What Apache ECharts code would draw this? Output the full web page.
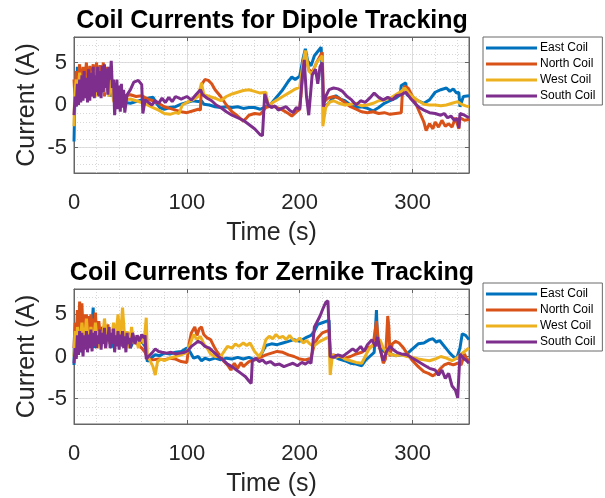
<!DOCTYPE html>
<html>
<head>
<meta charset="utf-8">
<script src="https://cdn.jsdelivr.net/npm/echarts@6/dist/echarts.min.js"></script>
<style>html,body{margin:0;padding:0;background:#fff}#c{width:605px;height:498px}</style>
</head>
<body>
<div id="c"></div>
<script>
const seriesNames = ['East Coil','North Coil','West Coil','South Coil'];
const colors = ['#0072BD','#D95319','#EDB120','#7E2F8E'];
const titles = ['Coil Currents for Dipole Tracking','Coil Currents for Zernike Tracking'];
const xTicks = [0,100,200,300];
const yTicks = [-5,0,5];

// [time (s), current (A)]
const dipoleEast = [[0,-4.3],[0.5,-1],[1,2.5],[2,0.5],[3,4.5],[4,1],[5,4.2],[6,0.5],[7,3.5],[8,1],[10,3.8],[12,0.8],[14,4],[16,1.5],[18,3.6],[20,1.2],[22,4],[24,1.5],[26,3.5],[28,1.8],[30,3.8],[32,1],[34,2.5],[36,0.5],[38,0.2],[40,0.1],[45,0.3],[50,0.2],[55,0.4],[60,0.6],[65,0.8],[70,0.9],[73,0.2],[76,-0.3],[80,-0.5],[85,-0.3],[90,-0.2],[95,0.1],[100,0.3],[105,0.5],[110,0.4],[113,0.5],[115,0.1],[120,0],[125,-0.2],[130,-0.3],[135,-0.2],[140,-0.3],[145,-0.2],[150,-0.4],[155,-0.3],[160,-0.3],[165,-0.5],[170,-0.2],[175,0.2],[180,1],[185,1.8],[190,2.8],[193,3.3],[196,3],[200,3.4],[203,5.5],[205,6.6],[207,5.2],[210,4.6],[213,5.8],[216,6.3],[219,6.8],[220.5,6.9],[221,-0.3],[224,0],[228,0.6],[232,1.1],[236,0.7],[240,0.5],[245,0],[250,-0.3],[255,-0.2],[260,-0.4],[265,-0.7],[270,-0.3],[275,0.2],[280,0.5],[285,0.8],[289,1.2],[290,2.3],[294,2.6],[295,1.2],[300,0.8],[305,0.5],[310,0.2],[315,0.6],[320,1.5],[325,1.8],[330,2],[333,1.6],[336,1.9],[339,1.4],[341,1.5],[342,-0.2],[345,1],[350,1.1]];
const dipoleNorth = [[0,3],[1,0.5],[2,4],[3,1.5],[5,4.8],[6,1],[8,4.5],[9,2],[11,5],[12,1.5],[14,4.6],[15,1],[17,4.8],[18,2],[20,5],[21,1.5],[23,4.7],[24,2],[26,5],[27,1],[29,4.5],[30,2],[32,3.5],[34,1],[36,1.5],[38,0.5],[40,1],[45,1.1],[50,1.2],[55,1],[60,1.1],[65,0.7],[70,0.5],[75,0.2],[80,-0.2],[85,-0.4],[90,-0.6],[95,-0.8],[100,-0.9],[105,-0.7],[110,-0.5],[112,-0.6],[113,2.4],[116,3],[119,2.9],[122,2.5],[125,1.8],[130,1],[135,0],[140,-0.8],[145,-1.3],[150,-1.9],[153,-1.5],[155,-1.2],[160,-1],[165,-1.1],[170,-0.3],[175,-0.1],[180,-0.3],[185,-0.6],[190,-1],[193,-1.3],[197,-0.8],[200,-0.5],[203,4],[205,6],[208,4.2],[211,3.8],[215,5],[220,6.2],[221,0.3],[225,0.8],[230,1],[235,0.8],[240,0.3],[245,-0.2],[250,-0.5],[255,-0.8],[260,-0.9],[265,-0.8],[270,-1],[275,-0.9],[280,-1.1],[285,-1],[290,-0.9],[291,1.5],[293,2.2],[296,2],[300,1],[305,-0.5],[310,-2],[312,-3],[315,-2.2],[318,-2.8],[320,-2],[323,-2.6],[326,-1.8],[329,-2.5],[332,-2.2],[335,-2.6],[338,-1.5],[341,-2.8],[342,-1.5],[346,-1.8],[350,-1.7]];
const dipoleWest = [[0,-2.5],[0.5,1],[2,3],[3,0.5],[5,3.8],[7,1],[9,3.5],[11,0.8],[13,3.8],[15,1.5],[17,4],[19,1],[21,3.8],[23,1.2],[25,4],[27,1.5],[29,3.5],[31,1],[33,3],[35,0.5],[38,-0.2],[40,0.3],[45,0.6],[50,0.7],[55,0.5],[60,0.3],[65,0],[70,-0.3],[75,-0.6],[80,-1],[85,-1.1],[90,-0.9],[93,-1],[96,0],[100,0.3],[105,0.6],[110,1],[113,2.6],[115,1.2],[120,1],[125,0.8],[130,0.5],[135,1],[140,1.3],[145,1.5],[150,1.7],[155,1.8],[160,1.6],[165,1.4],[170,1.5],[172,0],[175,0.2],[180,0.6],[185,1],[190,1.4],[195,1.8],[200,2.1],[203,5],[205,6.4],[208,4],[211,3.6],[215,5],[220,5.8],[220.5,-2.5],[223,-0.3],[226,0.3],[230,0.5],[235,0.2],[240,0],[245,0.1],[250,0.2],[255,-0.1],[260,0],[265,0.2],[270,0.5],[275,0.6],[280,0.8],[285,1.2],[290,1.6],[293,2],[296,1.5],[300,1],[305,0.5],[310,0.1],[315,0],[320,0],[325,-0.1],[330,0],[335,0.2],[340,0.4],[343,0.1],[347,-0.1],[350,-0.2]];
const dipoleSouth = [[0,-1.2],[1,1],[2,-0.2],[3,2.5],[4,0],[5,3],[6,0.3],[7,3.5],[8,0.5],[9,4],[10,0.8],[11,3.2],[12,0.3],[13,4.2],[14,0.5],[15,3.8],[16,1],[17,4.5],[18,0.8],[19,3.5],[20,1.5],[21,4.5],[22,1],[23,4],[24,0.8],[25,4.6],[26,1.5],[27,4.8],[28,2],[29,4.3],[30,1.2],[31,4.5],[32,3],[33,5.2],[34,2],[35,3],[36,-1.2],[38,3],[39,-0.5],[40,2.3],[41,-0.8],[42,2.5],[43,-0.3],[44,1.8],[45,-0.9],[47,1.2],[50,1.8],[53,2.7],[57,2.9],[60,2.4],[61,-1],[63,0.6],[66,0.3],[69,0],[72,0.5],[75,0.2],[78,0.8],[81,0.3],[84,0.9],[87,0.4],[90,1],[95,0.7],[100,1],[104,0.6],[108,1.2],[112,1.8],[114,1.2],[118,0.8],[122,0.5],[126,0],[130,-0.3],[135,-0.8],[140,-1.2],[145,-1.5],[150,-1.8],[155,-2.3],[160,-2.8],[165,-3.5],[167,-3.6],[169,1.3],[172,0],[175,-0.3],[178,-0.1],[181,-0.6],[184,-0.4],[188,-0.2],[191,-0.6],[194,-0.9],[197,-0.3],[200,-0.5],[202,3],[204,5.3],[206,1],[208,-1.2],[211,3.5],[214,4.2],[216,2.5],[218,4.5],[220,5],[221,-0.2],[223,1],[226,1.8],[230,2],[234,1.9],[238,1.6],[242,1],[246,0.6],[250,0],[254,0.5],[258,0.3],[262,0.8],[266,1.4],[270,0.9],[274,0.6],[278,0.9],[282,0.6],[286,1.1],[290,1.2],[294,1.5],[298,0.8],[302,0.2],[306,-0.3],[310,-0.6],[315,-0.9],[320,-1],[325,-1.2],[328,-1],[331,-1.5],[334,-1.3],[337,-1.8],[340,-1.6],[341,-2.7],[342,-1],[346,-1.2],[350,-1.5]];

const zernikeEast = [[0,-1],[0.5,3],[1,1],[2,4],[3,1.5],[5,3.5],[7,0.5],[9,4],[11,1],[13,3],[15,1.5],[17,5.8],[18,1],[20,3.5],[22,1.5],[25,3.5],[28,2],[30,3],[33,1],[35,3],[38,1.5],[40,2.5],[43,1.2],[46,2.5],[50,1],[53,2],[56,1.5],[60,1.8],[63,1.2],[65,-0.6],[68,-0.2],[72,0.2],[76,0.1],[80,0.4],[85,0.3],[90,0.5],[95,0.6],[100,1],[103,0.5],[106,-0.2],[110,0],[113,-0.5],[116,-0.2],[120,-0.4],[125,-0.2],[130,-0.4],[135,-0.2],[140,-0.3],[145,-0.1],[150,-0.3],[155,-0.1],[160,-0.4],[163,-0.2],[166,0.3],[170,1.3],[175,1.5],[180,1.4],[185,1.6],[190,1.8],[195,2],[200,1.8],[205,2.2],[210,2.5],[213,3],[216,3.8],[220,4],[224,4.2],[226,4.3],[227,0.3],[230,0],[235,-0.3],[240,-0.5],[245,-0.8],[250,-0.9],[255,-1.1],[258,-0.5],[262,0],[266,0.5],[268,5.5],[269,1.5],[272,0.8],[276,0.5],[280,0.3],[285,0.1],[290,0.2],[295,0.3],[300,0.9],[305,1.5],[310,1.6],[315,2],[318,2.1],[321,1.7],[324,1.9],[327,1.4],[330,0.9],[333,0.4],[336,0],[339,-0.3],[342,1],[344,2.7],[347,2.5],[350,2]];
const zernikeNorth = [[0,1],[1,4],[2,1.5],[3,5.5],[4,2],[5,6.5],[6,2.5],[7,6.3],[8,3],[9,5],[10,1.5],[11,5],[12,2],[13,4.8],[14,2.5],[15,5],[16,3],[17,4.5],[18,2],[19,5.2],[20,2.5],[22,4.2],[24,1.5],[26,3.5],[28,1],[30,3.8],[32,1.5],[34,3.2],[36,2],[38,3.5],[40,1.5],[42,3],[45,2],[48,2.8],[50,2.2],[53,1.8],[56,1.5],[60,1],[63,0.5],[65,-0.2],[70,-0.4],[75,-0.3],[80,-0.4],[85,-0.2],[90,-0.3],[95,-0.6],[100,-0.7],[102,1.5],[104,2.8],[107,3.5],[109,2.5],[111,3.3],[113,3.5],[115,2.6],[118,2.2],[121,2],[124,1.2],[127,0.5],[130,0],[133,-0.6],[136,-1],[139,-1.6],[142,-0.8],[145,-1.4],[148,-0.7],[150,-1.2],[155,-0.6],[160,-0.4],[165,-0.1],[170,0.2],[175,0.4],[180,0.6],[185,0.5],[190,0.2],[195,0],[200,-0.3],[205,-0.4],[210,-0.2],[213,1.5],[216,2.2],[220,2.8],[224,3],[226,3.1],[227,0],[230,0.2],[235,0],[240,-0.2],[245,0],[250,0.3],[255,0.5],[260,1],[265,1.3],[268,4.2],[270,1.5],[272,0.5],[274,-0.8],[276,-0.3],[278,4.8],[279,3.5],[280,0],[282,1.5],[285,1.8],[288,1.6],[292,1],[296,0.2],[300,-0.5],[305,-1.2],[310,-1.8],[314,-2],[318,-2.3],[322,-1.9],[325,-1.4],[328,-1],[332,-0.8],[336,-1],[340,-0.8],[343,-1],[346,0.3],[348,-0.3],[350,-0.5]];
const zernikeWest = [[0,0],[1,3],[2,0.5],[3,3.5],[5,1],[7,4],[9,1.5],[11,4.5],[13,1],[15,3.5],[17,1.5],[19,4],[21,1],[23,3],[25,1.8],[27,4.5],[29,2],[31,3.5],[33,1.5],[35,4],[37,2.5],[39,5],[41,2],[43,5.8],[45,2],[47,3],[49,1],[51,3.5],[53,1.5],[55,2.5],[57,1],[60,2.5],[62,1.5],[64,4.6],[65,0],[67,-0.4],[70,-1.2],[72,-2.2],[74,-0.6],[77,-0.3],[80,-0.5],[85,-0.2],[90,0],[95,0.2],[100,0.5],[103,1.5],[106,2.6],[109,2],[112,2.4],[115,1.5],[118,1],[121,0.3],[125,0],[130,0],[133,0.6],[136,1.2],[140,1],[143,1.5],[146,1.2],[150,1.6],[153,1.3],[156,1.6],[160,0.6],[164,0],[167,0.6],[170,2],[173,2.4],[176,2.1],[179,2.6],[182,2.2],[185,2.4],[188,2],[191,2.5],[194,2],[197,1.8],[200,2.2],[203,1.6],[206,1.9],[209,1.5],[212,1.2],[215,1.5],[218,1.8],[221,2],[224,2.2],[226,2.3],[227,-2.2],[229,0.2],[232,-0.1],[236,0.1],[240,-0.3],[245,-0.5],[250,-0.7],[255,-0.8],[258,0],[261,0.8],[264,1.3],[268,1.8],[271,2],[274,1],[277,0.5],[280,0.3],[285,0.1],[290,0.2],[295,0],[300,-0.1],[305,-0.3],[310,-0.4],[315,-0.5],[320,-0.3],[325,0],[330,-0.2],[335,-0.5],[340,-0.1],[343,0.3],[346,0.6],[350,1]];
const zernikeSouth = [[0,-0.8],[1,1],[2,-0.3],[3,2.5],[4,0.2],[5,3],[6,0.5],[7,2.8],[8,0],[9,2.5],[10,0.8],[11,3],[12,0.5],[13,2.6],[14,1],[15,3.2],[16,0.6],[17,2.8],[18,1.2],[19,3],[20,1],[21,2.5],[22,1.5],[23,3.2],[24,0.8],[25,2.8],[26,1.5],[27,3.4],[28,1],[29,2.6],[30,1.8],[31,3.5],[32,1],[33,2.8],[34,1.5],[35,3.3],[36,0.5],[37,2.5],[38,1.2],[39,3],[40,0.8],[41,2.6],[42,1.5],[43,3],[44,1],[45,2.4],[46,0.5],[47,2.8],[48,1.5],[49,2.2],[50,1],[52,2.8],[54,1.5],[56,2.5],[58,1.8],[60,2.6],[62,2.2],[63,2.5],[64,-0.3],[66,0],[69,0.4],[72,0.9],[75,0.6],[78,0.5],[82,0.4],[86,0.5],[90,0.3],[94,0.4],[98,0.5],[101,0.7],[104,1.2],[107,1.5],[110,1.8],[113,1.6],[116,1.2],[120,1],[124,0.5],[128,0],[132,-0.4],[136,-0.9],[140,-1.2],[144,-1.6],[148,-2],[152,-2.4],[155,-2.9],[157,-3.2],[158,-0.5],[161,-0.2],[164,-0.6],[167,-0.4],[170,-0.8],[174,-0.6],[178,-1],[182,-0.9],[186,-1.2],[190,-1],[194,-0.8],[198,-1.1],[202,-0.7],[205,-0.9],[208,-0.6],[210,-0.8],[211,0.5],[213,3.5],[215,4],[218,4.8],[221,5.8],[223,6.4],[225,6.6],[226,6.6],[227,0],[230,-0.1],[234,0.2],[238,0],[242,0.4],[247,0.9],[250,0.6],[254,1.2],[257,0.6],[260,1.4],[264,2],[267,1.2],[269,2.3],[271,1],[274,-0.5],[277,0.6],[280,1.2],[283,0.8],[286,0.5],[290,0.3],[295,0.2],[300,-0.2],[305,-0.6],[310,-1],[315,-1.4],[320,-1.6],[323,-2.2],[326,-1.6],[329,-2.6],[332,-2],[335,-3.5],[338,-4],[340,-4.9],[341,-4.8],[342,0.3],[345,-0.2],[348,-0.5],[350,-0.8]];

const plots = [
  [dipoleEast, dipoleNorth, dipoleWest, dipoleSouth],
  [zernikeEast, zernikeNorth, zernikeWest, zernikeSouth]
];

const FONT = 'Liberation Sans';
const AX = '#262626';
const gridTops = [37, 289];
const gridH = [136, 135];
const X_MIN = 0, X_MAX = 350, Y_MIN = -8, Y_MAX = 8;

const grids = [], xAxes = [], yAxes = [], series = [], titleArr = [], legends = [];
gridTops.forEach((top, g) => {
  grids.push({left: 74, top: top, width: 395, height: gridH[g], containLabel: false, show: true, backgroundColor: '#fff', borderColor: '#666', borderWidth: 1});
  xAxes.push({gridIndex: g, type: 'value', min: X_MIN, max: X_MAX, interval: 100, position: 'bottom',
    name: 'Time (s)', nameLocation: 'middle', nameGap: 48, nameMoveOverlap: false, nameTextStyle: {fontFamily: FONT, fontSize: 25, color: AX},
    axisLine: {show: true, onZero: false, lineStyle: {color: '#666'}},
    axisTick: {show: true, inside: true, length: 4, lineStyle: {color: '#666'}},
    axisLabel: {show: true, showMaxLabel: false, fontFamily: FONT, fontSize: 22, color: AX, margin: 19,
      formatter: v => xTicks.indexOf(v) >= 0 ? String(v) : ''},
    splitLine: {show: true, lineStyle: {color: '#dedede', width: 1}}});
  xAxes.push({gridIndex: g, type: 'value', min: X_MIN, max: X_MAX, interval: 100, position: 'top',
    axisLine: {show: true, onZero: false, lineStyle: {color: '#666'}},
    axisTick: {show: true, inside: true, length: 4, lineStyle: {color: '#666'}},
    axisLabel: {show: false}, splitLine: {show: false}});
  xAxes.push({gridIndex: g, type: 'value', min: X_MIN, max: X_MAX, interval: 20, position: 'bottom', show: true,
    axisLine: {show: false}, axisTick: {show: false}, axisLabel: {show: false},
    splitLine: {show: true, lineStyle: {color: '#d8d8d8', width: 1, type: [1, 2]}}});

  yAxes.push({gridIndex: g, type: 'value', min: Y_MIN, max: Y_MAX, splitNumber: 3, position: 'left',
    name: 'Current (A)', nameLocation: 'middle', nameGap: 34, nameMoveOverlap: false, nameRotate: 90, nameTextStyle: {fontFamily: FONT, fontSize: 25, color: AX},
    axisLine: {show: true, onZero: false, lineStyle: {color: '#666'}},
    axisTick: {show: true, inside: true, length: 4, lineStyle: {color: '#666'}},
    axisLabel: {show: true, showMinLabel: false, showMaxLabel: false, fontFamily: FONT, fontSize: 22, color: AX, margin: 7,
      formatter: v => yTicks.indexOf(v) >= 0 ? String(v) : ''},
    splitLine: {show: true, lineStyle: {color: '#dedede', width: 1}}});
  yAxes.push({gridIndex: g, type: 'value', min: Y_MIN, max: Y_MAX, splitNumber: 3, position: 'right',
    axisLine: {show: true, onZero: false, lineStyle: {color: '#666'}},
    axisTick: {show: true, inside: true, length: 4, lineStyle: {color: '#666'}},
    axisLabel: {show: false}, splitLine: {show: false}});
  yAxes.push({gridIndex: g, type: 'value', min: Y_MIN, max: Y_MAX, interval: 1, position: 'left',
    axisLine: {show: false}, axisTick: {show: false}, axisLabel: {show: false},
    splitLine: {show: true, lineStyle: {color: '#d8d8d8', width: 1, type: [1, 2]}}});

  titleArr.push({text: titles[g], left: 267, top: gridTops[g] - 33, textAlign: 'center',
    textStyle: {fontFamily: FONT, fontSize: 25, fontWeight: 'bold', color: '#000'}});

  legends.push({data: seriesNames, orient: 'vertical', left: 483, top: g === 0 ? 37 : 283,
    icon: 'rect', itemWidth: 51, itemHeight: 3, itemGap: 4,
    padding: [5, 7, 3, 3], borderColor: '#6a6a6a', borderWidth: 1, backgroundColor: '#fff',
    textStyle: {fontFamily: FONT, fontSize: 12, color: '#000', padding: [0, 0, 0, -2]}, selectedMode: false});

  plots[g].forEach((d, i) => {
    series.push({name: seriesNames[i], type: 'line', xAxisIndex: g * 3, yAxisIndex: g * 3, data: d,
      showSymbol: false, symbol: 'none', color: colors[i], lineStyle: {width: 3, color: colors[i]},
      clip: true, animation: false, silent: true, z: 3 + i});
  });
});

const chart = echarts.init(document.getElementById('c'), null, {renderer: 'canvas'});
chart.setOption({
  backgroundColor: '#fff', animation: false,
  title: titleArr, legend: legends, grid: grids, xAxis: xAxes, yAxis: yAxes, series: series
});
</script>
</body>
</html>
